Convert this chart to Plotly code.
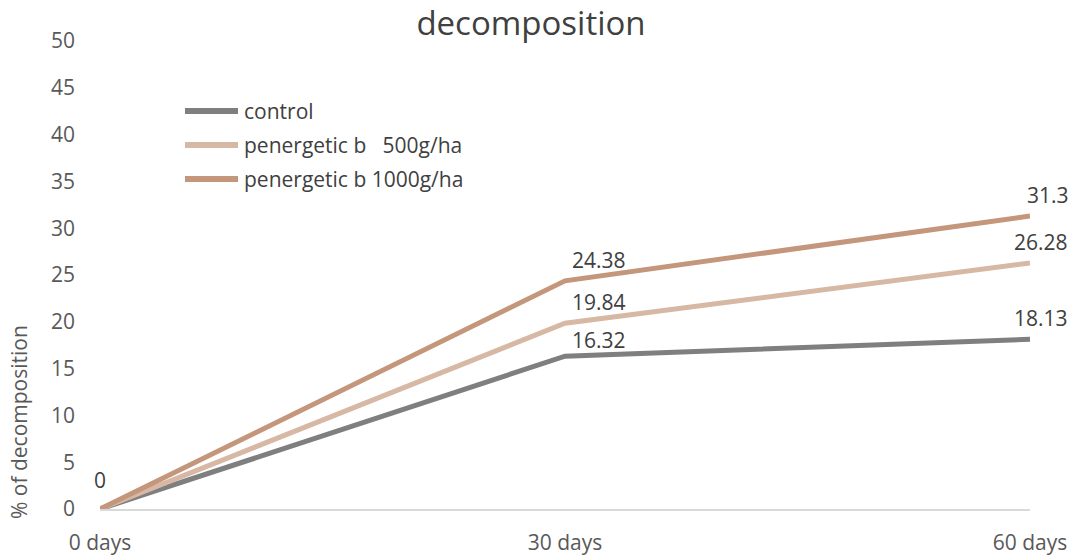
import plotly.graph_objects as go

categories = ["0 days", "30 days", "60 days"]
x_pos = [0, 30, 60]
series_names = ["control", "penergetic b   500g/ha", "penergetic b 1000g/ha"]
control = [0, 16.32, 18.13]
pb500 = [0, 19.84, 26.28]
pb1000 = [0, 24.38, 31.3]
colors = ["#7f7f7f", "#d6b8a4", "#c4967b"]

font = "Open Sans, DejaVu Sans, sans-serif"
txtcol = "#404040"
axcol = "#595959"

W, H = 1083, 556
L, R, T, B = 100, 53, 41, 47

# pixel -> paper coords
def px(x):
    return (x - L) / (W - L - R)

def py(y):
    return (H - B - y) / (H - T - B)

fig = go.Figure()
for name, vals, col in zip(series_names, [control, pb500, pb1000], colors):
    fig.add_trace(go.Scatter(x=x_pos, y=vals, mode="lines", name=name,
                             line=dict(color=col, width=5), showlegend=False,
                             hoverinfo="skip"))

# data labels
label_shifts = {
    "control": [None, (34, 16), (11, 21)],
    "penergetic b   500g/ha": [None, (34, 21), (11, 21)],
    "penergetic b 1000g/ha": [(0, 29), (34, 21), (18, 21)],
}
for name, vals in zip(series_names, [control, pb500, pb1000]):
    for i, (xv, yv) in enumerate(zip(x_pos, vals)):
        sh = label_shifts[name][i]
        if sh is None:
            continue
        fig.add_annotation(x=xv, y=yv, text=f"{yv:g}", showarrow=False,
                           xshift=sh[0], yshift=sh[1], yanchor="middle",
                           font=dict(family=font, size=21, color=txtcol))

# manual legend
leg_rows = [111, 145, 179]
for name, col, yr in zip(series_names, colors, leg_rows):
    fig.add_shape(type="line", xref="paper", yref="paper",
                  x0=px(185), x1=px(238), y0=py(yr), y1=py(yr),
                  line=dict(color=col, width=6))
    fig.add_annotation(xref="paper", yref="paper", x=px(242), y=py(yr),
                       text=name.replace("   ", "&nbsp;&nbsp;&nbsp;"), showarrow=False,
                       xanchor="left", yanchor="middle",
                       font=dict(family=font, size=21, color=txtcol))

# y axis title
fig.add_annotation(xref="paper", yref="paper", x=px(19), y=py(422), text="% of decomposition",
                   textangle=-90, showarrow=False, xanchor="center", yanchor="middle",
                   font=dict(family=font, size=21, color=axcol))

fig.update_layout(
    width=W, height=H,
    margin=dict(l=L, r=R, t=T, b=B),
    paper_bgcolor="white", plot_bgcolor="white",
    title=dict(text="decomposition", x=531 / W, xanchor="center",
               y=1 - 23 / H, yanchor="middle",
               font=dict(family=font, size=33, color=txtcol)),
    showlegend=False,
    font=dict(family=font),
)
fig.update_xaxes(range=[0, 60], tickvals=x_pos, ticktext=categories, showgrid=False,
                 showline=True, linecolor="#d9d9d9", linewidth=2, zeroline=False,
                 ticks="", tickfont=dict(family=font, size=21, color=axcol),
                 ticklabelstandoff=14, automargin=False)
fig.update_yaxes(range=[0, 50], dtick=5, showgrid=False, zeroline=False, showline=False,
                 ticks="", tickfont=dict(family=font, size=21, color=axcol),
                 ticklabelstandoff=24, automargin=False)

fig.write_html("out.html", config={"displayModeBar": False},
               post_script="document.body.style.margin='0';document.body.style.overflow='hidden';")
